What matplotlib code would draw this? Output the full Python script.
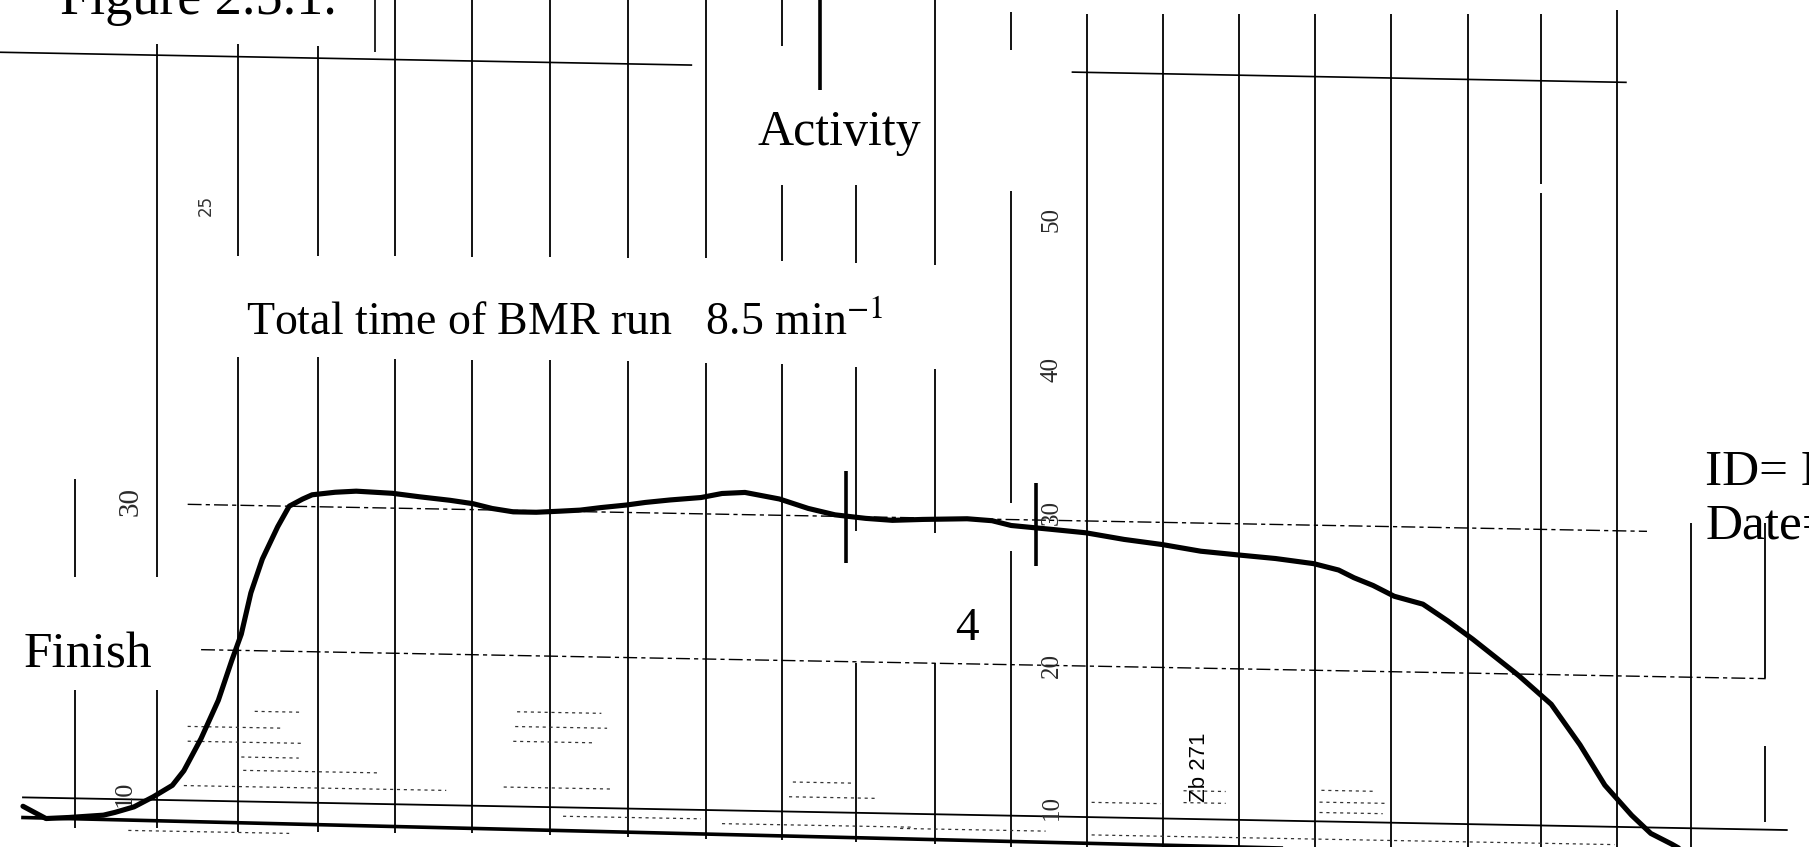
import matplotlib.pyplot as plt
import matplotlib.transforms as mtransforms

plt.rcParams['mathtext.fontset'] = 'stix'

# pen trace of the BMR run: chart time (min) and recorder reading
trace_t = [1.2, 1.8, 2.4, 3.6, 4.5, 5.4, 6.0, 7.0, 8.0, 9.0, 9.6, 10.5, 11.4, 12.1,
           12.6, 13.1, 13.7, 14.5, 15.1, 15.8, 16.3, 17.5, 18.6, 20.5, 21.9, 23.5,
           24.7, 25.7, 26.8, 28.0, 29.2, 30.3, 31.4, 32.7, 33.7, 35.0, 36.6, 37.7,
           38.9, 39.8, 40.7, 42.2, 43.6, 45.2, 46.6, 48.2, 50.5, 51.8, 52.8, 54.8,
           56.7, 58.7, 60.7, 62.7, 64.6, 66.6, 68.6, 69.9, 70.7, 71.7, 72.8, 74.3,
           75.6, 76.9, 78.1, 79.3, 81.0, 82.5, 83.8, 85.2, 86.2, 87.3, 88.0]
trace_v = [9.4, 9.0, 8.6, 8.7, 8.8, 8.9, 9.1, 9.5, 10.2, 11.0, 12.0, 14.2, 16.8, 19.5,
           21.3, 24.1, 26.4, 28.6, 30.0, 30.5, 30.8, 31.0, 31.1, 31.0, 30.8, 30.6,
           30.4, 30.1, 29.9, 29.9, 30.0, 30.1, 30.3, 30.5, 30.7, 30.9, 31.1, 31.4,
           31.5, 31.3, 31.1, 30.5, 30.1, 29.9, 29.8, 29.9, 30.0, 29.9, 29.6, 29.4,
           29.2, 28.8, 28.5, 28.1, 27.9, 27.7, 27.4, 27.0, 26.5, 26.0, 25.3, 24.8,
           23.7, 22.5, 21.3, 20.1, 18.2, 15.5, 12.8, 10.8, 9.6, 8.9, 8.4]

# activity marks on the trace (time, low, high)
mark_t = [42.83, 44.16, 54.1]
mark_lo = [58.8, 26.85, 26.9]
mark_hi = [64.9, 33.1, 32.5]

# baseline of the pen
base_t = [1.2, 94.5]
base_v = [8.64, 7.95]

# printed reference levels and where they show on the paper
level_v = [60.3, 30.0, 20.2, 10.0]
level_runs = [[(0.0, 36.1), (56.0, 84.9)],
              [(9.8, 86.0)],
              [(10.5, 92.2)],
              [(1.2, 93.3)]]
level_ls = ['-', (0, (10, 3, 3, 3)), (0, (10, 3, 3, 3)), '-']
level_lw = [1.2, 1.0, 1.0, 1.3]

# scale numbers printed on the paper
scale_t = [6.8, 6.5, 54.9, 54.9, 54.9, 54.9, 54.9]
scale_v = [30.1, 10.4, 50.3, 40.2, 30.5, 20.2, 10.6]
scale_txt = ['30', '10', '50', '40', '30', '20', '10']
scale_size = [21, 19, 18, 18, 18, 18, 18]

# time division lines, with the pieces that are not covered by the pasted labels
grid_t = [3.92, 8.19, 12.41, 16.63, 20.60, 24.64, 28.73, 32.77, 36.87, 40.84, 44.70,
          48.80, 52.77, 56.75, 60.72, 64.70, 68.67, 72.65, 76.63, 80.48, 84.46,
          88.31, 92.17]
grid_spans = [[(0.435, 0.319), (0.185, 0.022)],
              [(0.948, 0.319), (0.185, 0.022)],
              [(0.948, 0.698), (0.578, 0.018)],
              [(0.946, 0.698), (0.578, 0.018)],
              [(1.0, 0.698), (0.576, 0.017)],
              [(1.0, 0.696), (0.575, 0.016)],
              [(1.0, 0.696), (0.575, 0.014)],
              [(1.0, 0.695), (0.574, 0.012)],
              [(1.0, 0.695), (0.572, 0.010)],
              [(1.0, 0.946), (0.782, 0.692), (0.570, 0.008)],
              [(0.782, 0.689), (0.567, 0.373), (0.217, 0.006)],
              [(1.0, 0.687), (0.564, 0.371), (0.217, 0.004)],
              [(0.986, 0.941), (0.775, 0.406), (0.350, 0.0)],
              [(0.984, 0.0)],
              [(0.984, 0.0)],
              [(0.984, 0.0)],
              [(0.984, 0.0)],
              [(0.984, 0.0)],
              [(0.984, 0.0)],
              [(0.984, 0.783), (0.772, 0.0)],
              [(0.988, 0.0)],
              [(0.383, 0.0)],
              [(0.383, 0.200), (0.119, 0.030)]]
caption_edge_t = 19.58

# faint dotted minor rows (start, end, level)
minor_rows = [(9.6, 23.3, 11.0), (26.3, 31.9, 11.3), (12.7, 19.8, 12.1),
              (12.6, 15.6, 13.0), (9.8, 15.8, 14.0), (26.8, 31.0, 14.4),
              (9.8, 14.7, 15.0), (26.9, 31.7, 15.4), (13.3, 15.8, 16.1),
              (27.0, 31.4, 16.4), (6.7, 15.1, 7.9), (29.4, 36.6, 9.4),
              (41.4, 44.5, 12.0), (41.2, 45.7, 11.0), (37.7, 47.7, 9.1),
              (57.0, 60.6, 11.0), (61.8, 64.0, 11.1), (68.9, 72.4, 11.3),
              (61.8, 64.0, 11.9), (69.0, 71.7, 12.1), (47.0, 54.6, 9.0),
              (57.0, 84.3, 8.8), (68.9, 72.2, 10.6)]

fig = plt.figure(figsize=(18.09, 8.47), dpi=100)
ax = fig.add_axes([0, 0, 1, 1])
ax.set_xlim(0, 94.46)
ax.set_ylim(6.62, 63.83)
ax.axis('off')

# the paper sits slightly skewed on the scanner
skew = mtransforms.Affine2D.from_values(1, -0.02394, 0, 1, 0, 0)
chart = skew + ax.transData
page = mtransforms.blended_transform_factory(ax.transData, ax.transAxes)

for t, spans in zip(grid_t, grid_spans):
    for top, bottom in spans:
        ax.vlines(t, bottom, top, color='black', lw=1.3, transform=page)
ax.vlines(caption_edge_t, 0.939, 1.0, color='black', lw=1.2, transform=page)

for v, runs, ls, lw in zip(level_v, level_runs, level_ls, level_lw):
    for t0, t1 in runs:
        ax.plot([t0, t1], [v, v], color='black', lw=lw, ls=ls, transform=chart)

for t0, t1, v in minor_rows:
    ax.plot([t0, t1], [v, v], color='#333333', lw=0.9, ls=(0, (2.5, 3)),
            transform=chart)

ax.plot(base_t, base_v, color='black', lw=2.6, transform=chart)

ax.plot(trace_t, trace_v, color='black', lw=3.7, transform=chart,
        solid_joinstyle='round', solid_capstyle='round', zorder=5)

ax.vlines(mark_t, mark_lo, mark_hi, color='black', lw=2.6, transform=chart, zorder=6)

for t, v, s, fs in zip(scale_t, scale_v, scale_txt, scale_size):
    ax.text(t, v, s, transform=chart, rotation=90, ha='center', va='center',
            fontsize=fs, color='#2a2a2a', family='Liberation Serif')

serif = 'Liberation Serif'
fig.text(0.0332, 0.9837, 'Figure 2.5.1.', fontsize=39, family=serif, va='baseline')
fig.text(0.419, 0.8283, 'Activity', fontsize=36, family=serif, va='baseline')
fig.text(0.1358, 0.6049, r'Total time of BMR run   8.5 min$^{-1}$', fontsize=33,
         family=serif, va='baseline')
fig.text(0.0128, 0.2125, 'Finish', fontsize=37, family=serif, va='baseline')
fig.text(0.528, 0.2439, '4', fontsize=34, family=serif, va='baseline')
fig.text(0.9426, 0.4278, 'ID= K', fontsize=37, family=serif, va='baseline')
fig.text(0.9426, 0.3638, 'Date=12', fontsize=37, family=serif, va='baseline')
fig.text(0.6633, 0.094, 'Zb 271', rotation=90, ha='center', va='center',
         fontsize=16, family='Liberation Sans')
fig.text(0.1135, 0.757, '25', rotation=90, ha='center', va='center',
         fontsize=12, color='#333333')

fig.savefig('out.png', dpi=100)
